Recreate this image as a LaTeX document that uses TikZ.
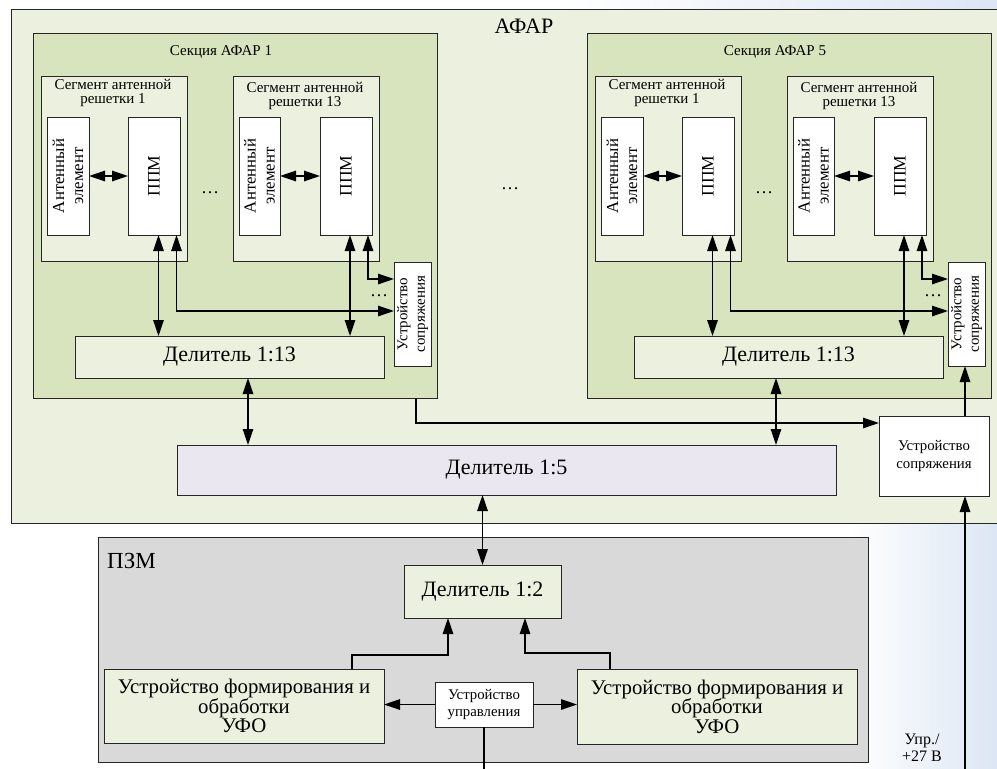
\documentclass[tikz,border=0pt]{standalone}
\usepackage{fontspec}
\setmainfont{Liberation Serif}
\usetikzlibrary{arrows.meta}
\definecolor{gpale}{HTML}{EBF1DE}
\definecolor{gsec}{HTML}{D7E4BD}
\definecolor{lav}{HTML}{EBE7F1}
\definecolor{pzm}{HTML}{D9D9D9}
\definecolor{bgblue}{HTML}{DCE6F4}
\definecolor{edge}{HTML}{262626}
\newcommand\mkbox[7]{\node[#1, minimum width={(#5)-(#3)}, minimum height={(#6)-(#4)}] (#2) at ({((#3)+(#5))/2},{((#4)+(#6))/2}) {#7};}
\newcommand\afarsec[5]{%
  \mkbox{box,fill=gsec}{#1s}{#2+33}{33}{#2+437}{398}{}
  \node[lblA] (#1sl) at ({#2+221},52) {#3};
  \mkbox{box,fill=gpale}{#1g1}{#2+41}{76}{#2+187}{261}{}
  \node[lblS] (#1g1l) at ({#2+113},93) {Сегмент антенной\\решетки 1};
  \mkbox{box,fill=white}{#1a1}{#2+47}{117}{#2+89}{235}{}
  \node[rotA] (#1a1l) at (#1a1.center) {Антенный\\элемент};
  \mkbox{box,fill=white}{#1p1}{#2+128}{117}{#2+180}{235}{}
  \node[rotP] (#1p1l) at (#1p1.center) {ППМ};
  \mkbox{box,fill=gpale}{#1g2}{#2+233}{76}{#2+379}{261}{}
  \node[lblS] (#1g2l) at ({#2+305},96) {Сегмент антенной\\решетки 13};
  \mkbox{box,fill=white}{#1a2}{#2+239}{117}{#2+280}{235}{}
  \node[rotA] (#1a2l) at (#1a2.center) {Антенный\\элемент};
  \mkbox{box,fill=white}{#1p2}{#2+320}{117}{#2+372}{235}{}
  \node[rotP] (#1p2l) at (#1p2.center) {ППМ};
  \mkbox{box,fill=white}{#1u}{#2+394}{262}{#2+431}{366}{}
  \node[rotU] (#1ul) at (#1u.center) {Устройство\\сопряжения};
  \mkbox{box,fill=gpale,big}{#1d}{#4}{336}{#5}{378}{Делитель 1:13}
  \node[dots] (#1dt1) at ({#2+210},193) {…};
  \node[dots] (#1dt2) at ({#2+379},296) {…};
  \draw[dbl] (#1a1.east) -- (#1p1.west);
  \draw[dbl] (#1a2.east) -- (#1p2.west);
  \coordinate (#1c1) at ({#2+158.5},0);
  \coordinate (#1c2) at ({#2+176.5},311);
  \coordinate (#1c3) at ({#2+350},0);
  \coordinate (#1c4) at ({#2+368},279);
  \draw[dbl] (#1c1 |- #1p1.south) -- (#1c1 |- #1d.north);
  \draw[dbl] (#1c2 |- #1p1.south) -- (#1c2) -- (#1c2 -| #1u.west);
  \draw[dbl] (#1c3 |- #1p2.south) -- (#1c3 |- #1d.north);
  \draw[dbl] (#1c4 |- #1p2.south) -- (#1c4) -- (#1c4 -| #1u.west);
}
\begin{document}
\begin{tikzpicture}[x=1pt,y=-1pt,
  box/.style={draw=edge, line width=1pt, inner sep=0pt, outer sep=0pt, align=center},
  big/.style={font=\fontsize{22}{24}\selectfont},
  ufo/.style={font=\fontsize{20.8}{19.5}\selectfont},
  small/.style={font=\fontsize{14.8}{17.5}\selectfont},
  lblA/.style={inner sep=0pt, font=\fontsize{15}{16}\selectfont},
  lblS/.style={inner sep=0pt, align=center, font=\fontsize{15}{13.5}\selectfont},
  rotA/.style={rotate=90, inner sep=0pt, align=center, font=\fontsize{16.8}{19}\selectfont},
  rotP/.style={rotate=90, inner sep=0pt, align=center, font=\fontsize{17.5}{19}\selectfont},
  rotU/.style={rotate=90, inner sep=0pt, align=center, font=\fontsize{15}{17.5}\selectfont},
  dots/.style={inner sep=0pt, font=\fontsize{18}{18}\selectfont},
  arr/.style={-{Triangle[length=16pt,width=10.5pt]}, line width=1.3pt, draw=black},
  dbl/.style={{Triangle[length=16pt,width=10.5pt]}-{Triangle[length=16pt,width=10.5pt]}, line width=1.3pt, draw=black},
  ln/.style={line width=1.3pt, draw=black}]
\useasboundingbox (0,0) rectangle (997,769);
\clip (0,0) rectangle (997,769);
\fill[white] (0,0) rectangle (997,769);
\shade[left color=white, right color=bgblue] (560,0) rectangle (997,10);
\shade[left color=white, right color=bgblue] (850,523) rectangle (997,769);
% outer AFAR
\mkbox{box,fill=gpale}{afar}{11}{9}{1012}{523}{}
\node[inner sep=0pt, font=\fontsize{22}{24}\selectfont] (afarl) at (524,26) {АФАР};
\afarsec{a}{0}{Секция АФАР 1}{75}{384}
\afarsec{b}{554}{Секция АФАР 5}{634}{943}
\node[dots] (mdots) at (510,189) {…};
% divider 1:5 and interface
\mkbox{box,fill=lav,big}{d5}{177}{445}{836}{495}{Делитель 1:5}
\mkbox{box,fill=white,small}{bigu}{879}{416}{989}{496}{Устройство\\сопряжения}
\coordinate (k1) at (416,423);
\draw[arr] (k1 |- as.south) -- (k1) -- (k1 -| bigu.west);
\coordinate (k2) at (965,769);
\draw[arr] (k2) -- (k2 |- bigu.south);
\draw[arr] (k2 |- bigu.north) -- (k2 |- bu.south);
\coordinate (k3) at (248,0);
\coordinate (k3b) at (776,0);
\draw[dbl] (k3 |- ad.south) -- (k3 |- d5.north);
\draw[dbl] (k3b |- bd.south) -- (k3b |- d5.north);
% PZM
\mkbox{box,fill=pzm}{pz}{98}{537}{868}{762}{}
\node[inner sep=0pt, anchor=west, font=\fontsize{23}{24}\selectfont] (pzl) at (107,561) {ПЗМ};
\mkbox{box,fill=gpale,big}{d2}{404}{565}{561}{618}{Делитель 1:2}
\draw[dbl] (d2.north) -- (d2.north |- d5.south);
\mkbox{box,fill=gpale,ufo}{ufl}{104}{669}{384}{743}{Устройство формирования и\\обработки\\УФО}
\mkbox{box,fill=gpale,ufo}{ufr}{577}{669}{857}{744}{Устройство формирования и\\обработки\\УФО}
\mkbox{box,fill=white,small}{uu}{435}{682}{533}{727}{Устройство\\управления}
\coordinate (k4) at (352,655);
\coordinate (k5) at (448,655);
\coordinate (k6) at (610,653);
\coordinate (k7) at (525,653);
\draw[arr] (k4 |- ufl.north) -- (k4) -- (k5) -- (k5 |- d2.south);
\draw[arr] (k6 |- ufr.north) -- (k6) -- (k7) -- (k7 |- d2.south);
\draw[arr] (uu.west) -- (uu.west -| ufl.east);
\draw[arr] (uu.east) -- (uu.east -| ufr.west);
\coordinate (k8) at (484,769);
\draw[ln] (uu.south) -- (uu.south |- k8);
\node[inner sep=0pt, align=center, font=\fontsize{16}{17}\selectfont] (upr) at (922,748) {Упр./\\+27 В};
\end{tikzpicture}
\end{document}
